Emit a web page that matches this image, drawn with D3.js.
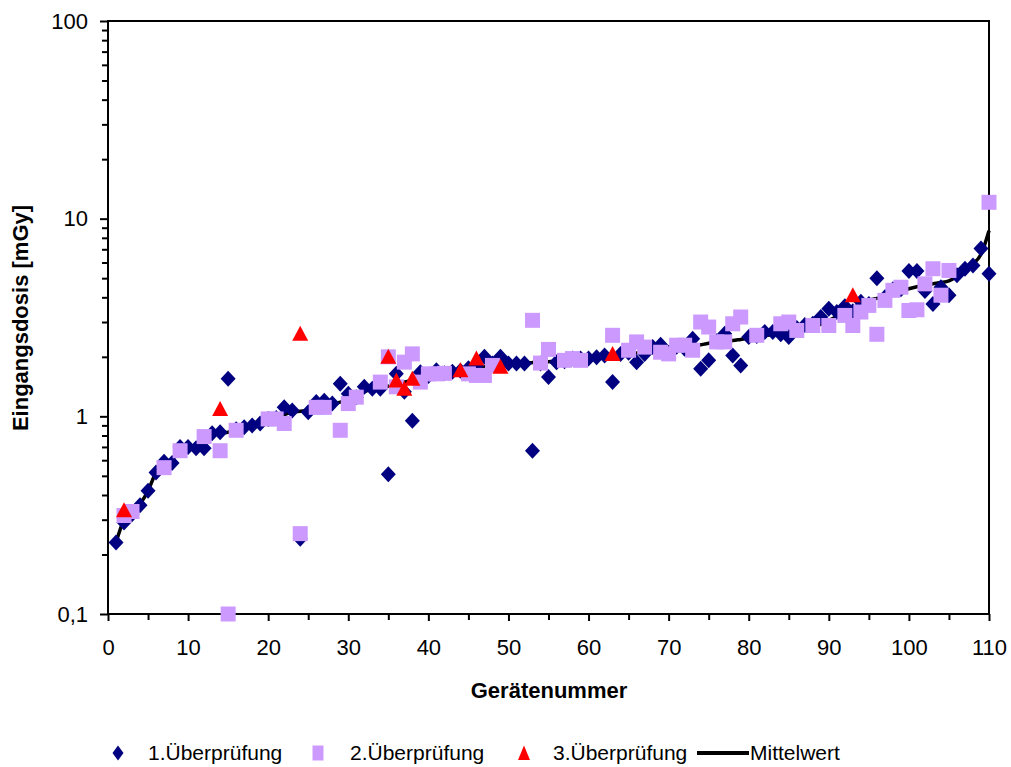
<!DOCTYPE html>
<html>
<head>
<meta charset="utf-8">
<script src="https://cdnjs.cloudflare.com/ajax/libs/d3/7.8.5/d3.min.js"></script>
<style>
  html, body { margin: 0; padding: 0; background: #fff; }
</style>
</head>
<body>
<div id="chart"></div>
<script>

// Geraetenummer 1..110 (sorted by Mittelwert)
var pruefung1 = [
  0.23, 0.29, 0.32, 0.355, 0.42, 0.52, 0.59, 0.58, 0.70, 0.70,
  0.69, 0.69, 0.82, 0.83, 1.55, 0.86, 0.88, 0.90, 0.92, 0.97,
  0.98, 1.11, 1.07, 0.24, 1.05, 1.18, 1.20, 1.16, 1.46, 1.30,
  1.25, 1.41, 1.38, 1.38, 0.51, 1.64, 1.33, 0.95, 1.67, 1.60,
  1.71, 1.65, 1.68, 1.70, 1.75, 1.80, 2.00, 1.85, 2.00, 1.85,
  1.85, 1.85, 0.67, 1.85, 1.58, 1.88, 1.90, 1.96, 1.96, 1.96,
  1.99, 2.03, 1.49, 2.07, 2.10, 1.88, 2.07, 2.24, 2.30, 2.10,
  2.25, 2.20, 2.47, 1.74, 1.92, 2.40, 2.62, 2.03, 1.81, 2.52,
  2.55, 2.67, 2.67, 2.60, 2.52, 2.80, 2.90, 2.94, 3.18, 3.50,
  3.37, 3.60, 3.40, 3.80, 3.70, 5.00, 4.00, 4.40, 4.40, 5.43,
  5.43, 4.30, 3.70, 4.50, 4.10, 5.17, 5.58, 5.80, 7.06, 5.27
];

// 2. Ueberpruefung: [Geraet, Dosis]
var pruefung2 = [
  [2, 0.315], [3, 0.33], [7, 0.55], [9, 0.67], [12, 0.79], [14, 0.67], [15, 0.10],
  [16, 0.85], [20, 0.97], [21, 0.97], [22, 0.92], [24, 0.255], [26, 1.11], [27, 1.11],
  [29, 0.85], [30, 1.16], [31, 1.25], [34, 1.49], [35, 2.0], [36, 1.41], [37, 1.88],
  [38, 2.07], [39, 1.49], [40, 1.64], [41, 1.64], [42, 1.65], [45, 1.64], [46, 1.61],
  [47, 1.61], [48, 1.81], [53, 3.06], [54, 1.86], [55, 2.18], [57, 1.92], [58, 1.96],
  [59, 1.92], [63, 2.57], [65, 2.16], [66, 2.38], [67, 2.24], [69, 2.11], [70, 2.07],
  [71, 2.29], [72, 2.29], [73, 2.16], [74, 3.0], [75, 2.83], [76, 2.38], [77, 2.38],
  [78, 2.94], [79, 3.18], [81, 2.57], [84, 2.94], [85, 3.0], [86, 2.72], [88, 2.88],
  [90, 2.88], [92, 3.24], [93, 2.88], [94, 3.37], [95, 3.64], [96, 2.6], [97, 3.86],
  [98, 4.34], [99, 4.5], [100, 3.43], [101, 3.46], [102, 4.68], [103, 5.58], [104, 4.1],
  [105, 5.47], [110, 12.1]
];

// 3. Ueberpruefung: [Geraet, Dosis]
var pruefung3 = [
  [2, 0.335], [14, 1.09], [24, 2.62], [35, 2.0], [36, 1.52], [37, 1.38],
  [38, 1.55], [44, 1.71], [46, 1.96], [49, 1.78], [63, 2.07], [93, 4.1]
];

// Mittelwert je Geraet 1..110
var mittelwert = [
  0.23, 0.30, 0.33, 0.36, 0.42, 0.52, 0.57, 0.60, 0.68, 0.70,
  0.71, 0.74, 0.80, 0.82, 0.83, 0.85, 0.87, 0.89, 0.92, 0.96,
  0.98, 1.02, 1.05, 1.06, 1.07, 1.10, 1.13, 1.16, 1.18, 1.22,
  1.26, 1.33, 1.37, 1.40, 1.42, 1.45, 1.49, 1.52, 1.56, 1.60,
  1.63, 1.65, 1.68, 1.71, 1.73, 1.76, 1.78, 1.80, 1.82, 1.84,
  1.85, 1.86, 1.87, 1.88, 1.89, 1.90, 1.92, 1.94, 1.95, 1.97,
  1.99, 2.01, 2.03, 2.05, 2.07, 2.09, 2.11, 2.13, 2.15, 2.18,
  2.20, 2.23, 2.26, 2.30, 2.34, 2.37, 2.40, 2.42, 2.45, 2.48,
  2.52, 2.56, 2.60, 2.65, 2.69, 2.74, 2.80, 2.86, 2.92, 3.05,
  3.20, 3.35, 3.55, 3.70, 3.85, 3.95, 4.05, 4.18, 4.30, 4.42,
  4.52, 4.60, 4.68, 4.75, 4.85, 5.10, 5.45, 5.90, 6.60, 8.70
];

var xMajorTicks = [0, 10, 20, 30, 40, 50, 60, 70, 80, 90, 100, 110];
var xMinorTicks = [5, 15, 25, 35, 45, 55, 65, 75, 85, 95, 105];
var yMajorTicks = [0.1, 1, 10, 100];
var yMajorLabels = ['0,1', '1', '10', '100'];
var legendLabels = ['1.Überprüfung', '2.Überprüfung', '3.Überprüfung', 'Mittelwert'];

// Exposed variables
var attrs = {
  svgWidth: 1011,
  svgHeight: 767,
  marginTop: 21,
  marginLeft: 108,
  plotRight: 989,
  plotBottom: 614,
  defaultFont: '"Liberation Sans", Arial, sans-serif',
  diamondColor: '#000080',
  squareColor: '#CC99FF',
  triangleColor: '#FF0000',
  lineColor: '#000000'
};

//Calculated properties
var calc = {};
calc.width = attrs.plotRight - attrs.marginLeft;
calc.height = attrs.plotBottom - attrs.marginTop;

//#########################  SCALES  ########################
var scales = {};
scales.x = d3.scaleLinear().domain([0, 110]).range([0, calc.width]);
scales.y = d3.scaleLog().domain([0.1, 100]).range([calc.height, 0]);

// minor log ticks 2..9 per decade
var yMinorTicks = [];
[0.1, 1, 10].forEach(function (d) {
  for (var k = 2; k <= 9; k++) yMinorTicks.push(d * k);
});

//Add svg
var svg = d3.select('#chart').append('svg')
  .attr('width', attrs.svgWidth)
  .attr('height', attrs.svgHeight)
  .attr('font-family', attrs.defaultFont);

var chart = svg.append('g')
  .attr('transform', 'translate(' + attrs.marginLeft + ',' + attrs.marginTop + ')');

//###########################  AXES  ########################
function styleAxis(g) {
  g.select('.domain').remove();
  g.selectAll('line').attr('stroke', '#000').attr('stroke-width', 2);
  g.selectAll('text').attr('fill', '#000').attr('font-size', 22);
}

chart.append('g')
  .attr('transform', 'translate(0,' + calc.height + ')')
  .call(d3.axisBottom(scales.x).tickValues(xMinorTicks).tickSize(6).tickFormat(''))
  .call(styleAxis);

chart.append('g')
  .attr('transform', 'translate(0,' + calc.height + ')')
  .call(d3.axisBottom(scales.x).tickValues(xMajorTicks).tickSize(7).tickPadding(18).tickFormat(d3.format('d')))
  .call(styleAxis);

chart.append('g')
  .call(d3.axisLeft(scales.y).tickValues(yMinorTicks).tickSize(6).tickFormat(''))
  .call(styleAxis);

chart.append('g')
  .call(d3.axisLeft(scales.y).tickValues(yMajorTicks).tickSize(8).tickPadding(12)
    .tickFormat(function (d, i) { return yMajorLabels[i]; }))
  .call(styleAxis);

// plot frame
chart.append('rect')
  .attr('x', 0).attr('y', 0)
  .attr('width', calc.width).attr('height', calc.height)
  .attr('fill', 'none').attr('stroke', '#000').attr('stroke-width', 2);

// axis titles
svg.append('text')
  .attr('x', 549).attr('y', 698)
  .attr('text-anchor', 'middle')
  .attr('font-size', 22).attr('font-weight', 'bold')
  .text('Gerätenummer');

svg.append('text')
  .attr('transform', 'translate(28,318) rotate(-90)')
  .attr('text-anchor', 'middle')
  .attr('font-size', 22).attr('font-weight', 'bold')
  .text('Eingangsdosis [mGy]');

//###########################  MARKS  ########################
var line = d3.line()
  .x(function (d, i) { return scales.x(i + 1); })
  .y(function (d) { return scales.y(d); })
  .curve(d3.curveMonotoneX);

chart.append('path')
  .datum(mittelwert)
  .attr('d', line)
  .attr('fill', 'none')
  .attr('stroke', attrs.lineColor)
  .attr('stroke-width', 3.5);

var diamond = 'M0,-8L7.5,0L0,8L-7.5,0Z';
var square = 'M-7.5,-7.5H7.5V7.5H-7.5Z';
var triangle = 'M0,-8L8,7L-8,7Z';

chart.append('g').selectAll('path')
  .data(pruefung1)
  .join('path')
  .attr('d', diamond)
  .attr('transform', function (d, i) {
    return 'translate(' + scales.x(i + 1) + ',' + scales.y(d) + ')';
  })
  .attr('fill', attrs.diamondColor);

chart.append('g').selectAll('path')
  .data(pruefung2)
  .join('path')
  .attr('d', square)
  .attr('transform', function (d) {
    return 'translate(' + scales.x(d[0]) + ',' + scales.y(d[1]) + ')';
  })
  .attr('fill', attrs.squareColor);

chart.append('g').selectAll('path')
  .data(pruefung3)
  .join('path')
  .attr('d', triangle)
  .attr('transform', function (d) {
    return 'translate(' + scales.x(d[0]) + ',' + scales.y(d[1]) + ')';
  })
  .attr('fill', attrs.triangleColor);

//###########################  LEGEND  ########################
var legend = svg.append('g').attr('font-size', 21);
var legendItems = [
  { label: legendLabels[0], x: 118, shape: 'M0,-7.5L5.5,0L0,7.5L-5.5,0Z', color: attrs.diamondColor, text: 148 },
  { label: legendLabels[1], x: 318, shape: 'M-5.5,-7.5H5.5V7.5H-5.5Z', color: attrs.squareColor, text: 350 },
  { label: legendLabels[2], x: 524, shape: 'M0,-7.5L6,7L-6,7Z', color: attrs.triangleColor, text: 553 }
];

legendItems.forEach(function (d) {
  legend.append('path')
    .attr('d', d.shape)
    .attr('transform', 'translate(' + d.x + ',753)')
    .attr('fill', d.color);
  legend.append('text')
    .attr('x', d.text).attr('y', 760)
    .text(d.label);
});

legend.append('line')
  .attr('x1', 697).attr('x2', 749)
  .attr('y1', 753).attr('y2', 753)
  .attr('stroke', attrs.lineColor).attr('stroke-width', 4);
legend.append('text')
  .attr('x', 750).attr('y', 760)
  .text(legendLabels[3]);

</script>
</body>
</html>
